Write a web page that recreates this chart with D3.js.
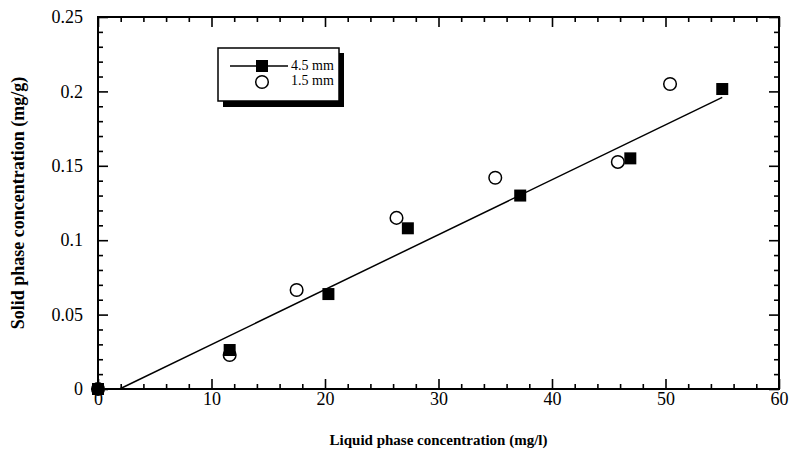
<!DOCTYPE html>
<html>
<head>
<meta charset="utf-8">
<script src="https://cdn.jsdelivr.net/npm/d3@7"></script>
<style>
  body { margin: 0; background: #fff; }
  svg { display: block; font-family: 'Liberation Serif', 'Times New Roman', serif; }
</style>
</head>
<body>
<svg id="chart" width="790" height="456"></svg>
<script>
// data
const bigX = [0, 11.6, 20.3, 27.3, 37.2, 46.9, 55.0];
const bigY = [0, 0.0262, 0.0638, 0.108, 0.130, 0.155, 0.2016];
const smallX = [0, 11.6, 17.5, 26.3, 35.0, 45.8, 50.4];
const smallY = [0, 0.0228, 0.0665, 0.115, 0.142, 0.1526, 0.205];
const fitX = [1.9, 55];
const fitY = [0, 0.196];
const xTicks = [0, 10, 20, 30, 40, 50, 60];
const yTicks = [0, 0.05, 0.1, 0.15, 0.2, 0.25];
const legendLabels = ['4.5 mm', '1.5 mm'];

const serif = "'Liberation Serif', 'Times New Roman', serif";
const margin = { top: 17, right: 11, bottom: 67, left: 98 };
const width = 790, height = 456;
const svg = d3.select('#chart');

const x = d3.scaleLinear().domain([0, 60]).range([margin.left, width - margin.right]);
const y = d3.scaleLinear().domain([0, 0.25]).range([height - margin.bottom, margin.top]);

const xMinor = d3.range(0, 60.001, 2).filter(v => v % 10 !== 0);
const yMinor = d3.range(0, 0.2501, 0.01).filter(v => Math.abs(v / 0.05 - Math.round(v / 0.05)) > 1e-6);

function styleAxis(g) {
    g.attr('font-family', serif).attr('font-size', 18);
    g.select('.domain').remove();
    g.selectAll('.tick line').attr('stroke', '#000').attr('stroke-width', 1.6);
    g.selectAll('.tick text').attr('fill', '#000');
}

// bottom axis (labels), ticks inward
svg.append('g')
    .attr('transform', `translate(0, ${y(0)})`)
    .call(d3.axisBottom(x).tickValues(xTicks).tickSize(-10).tickPadding(3).tickFormat(d3.format('d')))
    .call(styleAxis);
svg.append('g')
    .attr('transform', `translate(0, ${y(0)})`)
    .call(d3.axisBottom(x).tickValues(xMinor).tickSize(-5).tickFormat(''))
    .call(styleAxis);
// top axis
svg.append('g')
    .attr('transform', `translate(0, ${y(0.25)})`)
    .call(d3.axisTop(x).tickValues(xTicks).tickSize(-10).tickFormat(''))
    .call(styleAxis);
svg.append('g')
    .attr('transform', `translate(0, ${y(0.25)})`)
    .call(d3.axisTop(x).tickValues(xMinor).tickSize(-5).tickFormat(''))
    .call(styleAxis);
// left axis (labels)
svg.append('g')
    .attr('transform', `translate(${x(0)}, 0)`)
    .call(d3.axisLeft(y).tickValues(yTicks).tickSize(-10).tickPadding(15).tickFormat(d => d === 0 ? '0' : String(+d.toFixed(2))))
    .call(styleAxis);
svg.append('g')
    .attr('transform', `translate(${x(0)}, 0)`)
    .call(d3.axisLeft(y).tickValues(yMinor).tickSize(-5).tickFormat(''))
    .call(styleAxis);
// right axis
svg.append('g')
    .attr('transform', `translate(${x(60)}, 0)`)
    .call(d3.axisRight(y).tickValues(yTicks).tickSize(-10).tickFormat(''))
    .call(styleAxis);
svg.append('g')
    .attr('transform', `translate(${x(60)}, 0)`)
    .call(d3.axisRight(y).tickValues(yMinor).tickSize(-5).tickFormat(''))
    .call(styleAxis);

// frame
svg.append('rect')
    .attr('x', x(0)).attr('y', y(0.25))
    .attr('width', x(60) - x(0)).attr('height', y(0) - y(0.25))
    .attr('fill', 'none').attr('stroke', '#000').attr('stroke-width', 2);

// fit line
const line = d3.line().x(d => x(d[0])).y(d => y(d[1]));
svg.append('path')
    .datum(d3.zip(fitX, fitY))
    .attr('d', line)
    .attr('fill', 'none').attr('stroke', '#000').attr('stroke-width', 1.5);

// 1.5 mm circles
svg.append('g').selectAll('circle')
    .data(d3.zip(smallX, smallY))
    .join('circle')
    .attr('cx', d => x(d[0])).attr('cy', d => y(d[1]))
    .attr('r', 6.3)
    .attr('fill', '#fff').attr('stroke', '#000').attr('stroke-width', 1.5);

// 4.5 mm squares
const sq = 12;
svg.append('g').selectAll('rect')
    .data(d3.zip(bigX, bigY))
    .join('rect')
    .attr('x', d => x(d[0]) - sq / 2).attr('y', d => y(d[1]) - sq / 2)
    .attr('width', sq).attr('height', sq)
    .attr('fill', '#000');

// legend with drop shadow
const lg = svg.append('g').attr('transform', 'translate(218, 48)');
lg.append('rect').attr('x', 5).attr('y', 5).attr('width', 121).attr('height', 54).attr('fill', '#000');
lg.append('rect').attr('x', 0).attr('y', 0).attr('width', 121).attr('height', 53)
    .attr('fill', '#fff').attr('stroke', '#000').attr('stroke-width', 1.5);
lg.append('line').attr('x1', 12).attr('x2', 70).attr('y1', 18).attr('y2', 18)
    .attr('stroke', '#000').attr('stroke-width', 1.5);
lg.append('rect').attr('x', 44 - sq / 2).attr('y', 18 - sq / 2).attr('width', sq).attr('height', sq).attr('fill', '#000');
lg.append('circle').attr('cx', 44).attr('cy', 34).attr('r', 6.3)
    .attr('fill', '#fff').attr('stroke', '#000').attr('stroke-width', 1.5);
lg.selectAll('text.lab')
    .data(legendLabels)
    .join('text')
    .attr('class', 'lab')
    .attr('x', 73).attr('y', (d, i) => 22 + i * 15)
    .attr('font-family', serif)
    .attr('font-size', 14)
    .text(d => d);

// axis titles
svg.append('text')
    .attr('x', (x(0) + x(60)) / 2).attr('y', 445)
    .attr('text-anchor', 'middle')
    .attr('font-family', serif)
    .attr('font-size', 15).attr('font-weight', 'bold')
    .text('Liquid phase concentration (mg/l)');
svg.append('text')
    .attr('transform', `translate(24, ${(y(0) + y(0.25)) / 2}) rotate(-90)`)
    .attr('text-anchor', 'middle')
    .attr('font-family', serif)
    .attr('font-size', 18).attr('font-weight', 'bold')
    .text('Solid phase concentration (mg/g)');
</script>
</body>
</html>
